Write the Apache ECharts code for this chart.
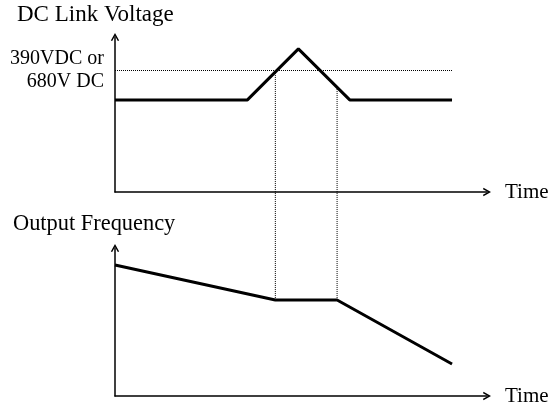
<!DOCTYPE html>
<html>
<head>
<meta charset="utf-8">
<script src="https://cdn.jsdelivr.net/npm/echarts@6/dist/echarts.min.js"></script>
<style>
  html, body { margin: 0; padding: 0; background: #fff; }
  #chart { width: 558px; height: 407px; }
</style>
</head>
<body>
<div id="chart"></div>
<script>
// time axis runs 0..100 in both panels
const voltTime = [0, 35.6, 49.3, 63.1, 90.6]
const voltValue = [59.4, 59.4, 92.3, 59.4, 59.4]
const freqTime = [0, 43.1, 59.7, 90.6]
const freqValue = [88.5, 64.9, 64.9, 21.6]
// level marked on the voltage panel
const limitLevel = 78.7
const limitEnd = 90.8
const limitLabel = '390VDC or\n680V DC'
// guide lines from the frequency flat part up to the voltage curve
const guideTime = [43.1, 59.7]
const guideFrom = [64.9, 64.9]
const guideTo = [220.3, 208.1]

const FONT = '"Liberation Serif", "Times New Roman", serif'
const chevron = 'path://M0,9 L5,0 L10,9 L8.4,9.6 L5,3.6 L1.6,9.6 Z'

const chart = echarts.init(document.getElementById('chart'), null, { renderer: 'canvas' })

function makeAxis(gridIndex, name) {
  return {
    type: 'value',
    gridIndex,
    min: 0,
    max: 100,
    name,
    nameLocation: 'end',
    nameGap: 18,
    nameTextStyle: { color: '#000', fontFamily: FONT, fontSize: 21 },
    axisLine: {
      show: true,
      symbol: ['none', chevron],
      symbolSize: [9, 8],
      lineStyle: { color: '#000', width: 1.5 }
    },
    axisTick: { show: false },
    axisLabel: { show: false },
    splitLine: { show: false }
  }
}

const dotted = { color: '#000', width: 1, type: [1, 1] }

const option = {
  animation: false,
  backgroundColor: '#fff',
  grid: [
    { left: 115, right: 71, top: 37, bottom: 215 },
    { left: 115, right: 71, top: 248, bottom: 11 }
  ],
  xAxis: [makeAxis(0, 'Time'), makeAxis(1, 'Time')],
  yAxis: [makeAxis(0, ''), makeAxis(1, '')],
  graphic: [
    {
      type: 'text', left: 17, top: 3,
      style: { text: 'DC Link Voltage', fill: '#000', font: '23px ' + FONT }
    },
    {
      type: 'text', left: 13, top: 213,
      style: { text: 'Output Frequency', fill: '#000', font: '22.4px ' + FONT }
    }
  ],
  series: [
    {
      type: 'line',
      xAxisIndex: 0,
      yAxisIndex: 0,
      data: voltTime.map((t, i) => [t, voltValue[i]]),
      showSymbol: false,
      lineStyle: { color: '#000', width: 3 },
      markLine: {
        silent: true,
        symbol: 'none',
        lineStyle: dotted,
        label: {
          show: true,
          position: 'start',
          distance: 11,
          formatter: limitLabel,
          color: '#000',
          fontFamily: FONT,
          fontSize: 20,
          lineHeight: 23,
          align: 'right'
        },
        data: [[{ coord: [0, limitLevel] }, { coord: [limitEnd, limitLevel] }]]
      }
    },
    {
      type: 'line',
      xAxisIndex: 1,
      yAxisIndex: 1,
      data: freqTime.map((t, i) => [t, freqValue[i]]),
      showSymbol: false,
      lineStyle: { color: '#000', width: 3 }
    }
  ].concat(guideTime.map((t, i) => ({
    type: 'line',
    xAxisIndex: 1,
    yAxisIndex: 1,
    clip: false,
    z: 1,
    data: [[t, guideFrom[i]], [t, guideTo[i]]],
    showSymbol: false,
    lineStyle: dotted
  })))
}

chart.setOption(option)
</script>
</body>
</html>
